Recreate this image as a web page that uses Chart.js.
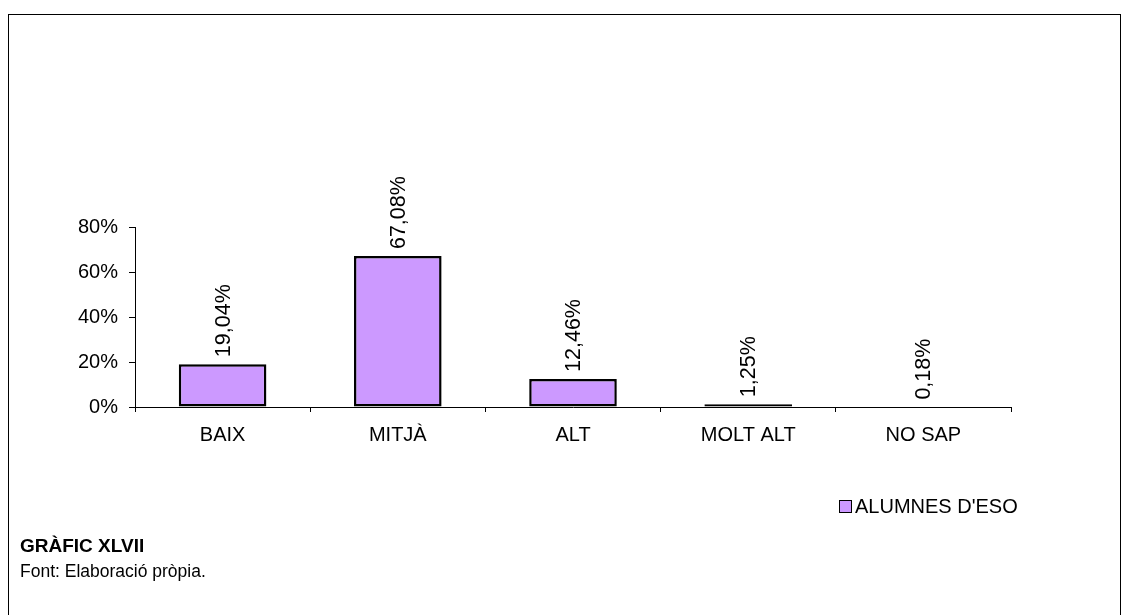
<!DOCTYPE html>
<html>
<head>
<meta charset="utf-8">
<script src="https://cdn.jsdelivr.net/npm/chart.js@4/dist/chart.umd.min.js"></script>
<style>
  html, body { margin: 0; padding: 0; background: #fff; }
  body { width: 1131px; height: 615px; position: relative; overflow: hidden;
         font-family: "Liberation Sans", Arial, sans-serif; color: #000; }
  #frame { position: absolute; left: 8px; top: 14px; width: 1113px; height: 640px;
           border: 1px solid #000; box-sizing: border-box; }
  #wrap { position: absolute; left: 0; top: 0; width: 1131px; height: 615px; }
  #legend { position: absolute; left: 839px; top: 495px; font-size: 20px; display: flex; align-items: center; }
  #legend .sw { width: 11px; height: 11px; background: #CC99FF; border: 1.5px solid #000; margin-right: 3px; }
  #titol { position: absolute; left: 20px; top: 535px; font-size: 19px; font-weight: bold; }
  #font { position: absolute; left: 20px; top: 561px; font-size: 17.5px; }
</style>
</head>
<body>
<div id="frame"></div>
<div id="wrap"><canvas id="chart" width="1131" height="615"></canvas></div>
<div id="legend"><span class="sw"></span><span id="legendText"></span></div>
<div id="titol">GRÀFIC XLVII</div>
<div id="font">Font: Elaboració pròpia.</div>

<script>
// ---- dades ----
const categories = ["BAIX", "MITJÀ", "ALT", "MOLT ALT", "NO SAP"];
const values = [19.04, 67.08, 12.46, 1.25, 0.18];   // en %
const seriesName = "ALUMNES D'ESO";
const yTicks = [0, 20, 40, 60, 80];

const FONT = "'Liberation Sans', Arial, sans-serif";

document.getElementById("legendText").textContent = seriesName;

// etiquetes verticals damunt de cada barra
const valueLabels = {
    id: "valueLabels",
    afterDatasetsDraw(chart) {
        const ctx = chart.ctx;
        const meta = chart.getDatasetMeta(0);
        ctx.save();
        ctx.font = "21.5px " + FONT;
        ctx.fillStyle = "#000";
        ctx.textAlign = "left";
        ctx.textBaseline = "middle";
        meta.data.forEach((bar, i) => {
            const txt = values[i].toFixed(2).replace(".", ",") + "%";
            ctx.save();
            ctx.translate(bar.x + 1, bar.y - 7);
            ctx.rotate(-Math.PI / 2);
            ctx.fillText(txt, 0, 0);
            ctx.restore();
        });
        ctx.restore();
    }
};

new Chart(document.getElementById("chart"), {
    type: "bar",
    data: {
        labels: categories,
        datasets: [{
            label: seriesName,
            data: values,
            backgroundColor: "#CC99FF",
            borderColor: "#000",
            borderWidth: 2.5,
            borderSkipped: false,
            barPercentage: 0.5,
            categoryPercentage: 1.0
        }]
    },
    options: {
        responsive: false,
        animation: false,
        layout: { padding: { top: 227, left: 0, right: 120, bottom: 168 } },
        plugins: { legend: { display: false }, tooltip: { enabled: false } },
        scales: {
            x: {
                afterFit: s => { s.height = 40; },
                grid: { display: true, drawOnChartArea: false, drawTicks: true, tickLength: 5, color: "#000", offset: true },
                border: { display: true, color: "#000", width: 1 },
                ticks: { color: "#000", font: { family: FONT, size: 20 }, padding: 11, maxRotation: 0 }
            },
            y: {
                min: yTicks[0],
                max: yTicks[yTicks.length - 1],
                afterFit: s => { s.width = 135; },
                afterBuildTicks: s => { s.ticks = yTicks.map(v => ({ value: v })); },
                grid: { display: true, drawOnChartArea: false, drawTicks: true, tickLength: 6, color: "#000" },
                border: { display: true, color: "#000", width: 1 },
                ticks: { color: "#000", font: { family: FONT, size: 20 }, padding: 11,
                         callback: v => v + "%" }
            }
        }
    },
    plugins: [valueLabels]
});
</script>
</body>
</html>
